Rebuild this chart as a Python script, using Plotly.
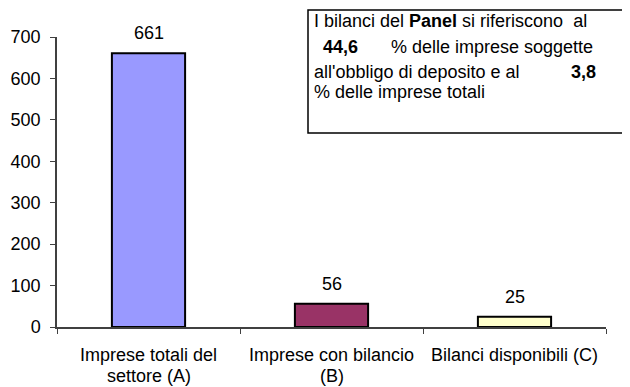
import plotly.graph_objects as go

categories = ["Imprese totali del<br>settore (A)", "Imprese con bilancio<br>(B)", "Bilanci disponibili (C)"]
values = [661, 56, 25]
bar_colors = ["#9999FF", "#993366", "#FFFFCC"]
y_ticks = [0, 100, 200, 300, 400, 500, 600, 700]

FONT = "Liberation Sans, Arial, sans-serif"
FS = 18
OFF = 8  # page body margin in the browser
W, H = 630 - OFF, 387 - OFF
# plot area in screenshot pixels: x 57..606, y 37..327
X0, X1, Y0, Y1 = 57, 606, 37, 327
L, R, T, B = X0 - OFF, W - (X1 - OFF), Y0 - OFF, H - (Y1 - OFF)
PW, PH = X1 - X0, Y1 - Y0

def px(x):
    return (x - X0) / PW

def py(y):
    return (Y1 - y) / PH

fig = go.Figure()
fig.add_trace(go.Bar(
    x=categories, y=values, width=0.4,
    marker=dict(color=bar_colors, line=dict(color="black", width=2)),
    hoverinfo="skip",
))

for c, v in zip(categories, values):
    fig.add_annotation(x=c, y=v, text=str(v), showarrow=False, yanchor="middle",
                       yshift=20, font=dict(size=FS, color="black", family=FONT))

# category labels, one annotation per line for tight control of line spacing
line_y = [355, 376]
for c in categories:
    for i, part in enumerate(c.split("<br>")):
        fig.add_annotation(x=c, xref="x", yref="paper", y=py(line_y[i]), text=part,
                           showarrow=False, yanchor="middle", xanchor="center",
                           borderpad=0,
                           font=dict(size=FS, color="black", family=FONT))

# text box
fig.add_shape(type="rect", xref="paper", yref="paper",
              x0=px(308), x1=px(627), y0=py(133), y1=py(10),
              line=dict(color="black", width=1.5), fillcolor="white")

box_texts = [
    ("I bilanci del <b>Panel</b> si riferiscono  al", 312, 21),
    ("<b>44,6</b>", 321, 47),
    ("% delle imprese soggette", 389, 47),
    ("all'obbligo di deposito e al", 312, 72),
    ("<b>3,8</b>", 569, 72),
    ("% delle imprese totali", 312, 92),
]
for t, x, y in box_texts:
    fig.add_annotation(xref="paper", yref="paper", x=px(x), y=py(y), text=t,
                       showarrow=False, xanchor="left", yanchor="middle",
                       font=dict(size=FS, color="black", family=FONT))

axis_color = "#404040"
fig.update_layout(
    width=W, height=H,
    margin=dict(l=L, r=R, t=T, b=B, pad=0, autoexpand=False),
    paper_bgcolor="white", plot_bgcolor="white",
    showlegend=False,
    font=dict(family=FONT, size=FS, color="black"),
    bargap=0.6,
)
fig.update_xaxes(
    showline=True, linecolor=axis_color, linewidth=1.5, automargin=False,
    ticks="outside", ticklen=5, tickcolor=axis_color, tickson="boundaries",
    showgrid=False, showticklabels=False,
)
fig.update_yaxes(
    range=[0, 700], tickvals=y_ticks, showline=True, linecolor=axis_color, linewidth=1.5,
    automargin=False,
    ticks="outside", ticklen=5, tickcolor=axis_color, showgrid=False, zeroline=False,
    ticklabelstandoff=6,
    tickfont=dict(size=FS, family=FONT, color="black"),
)

fig.write_html("out.html")
